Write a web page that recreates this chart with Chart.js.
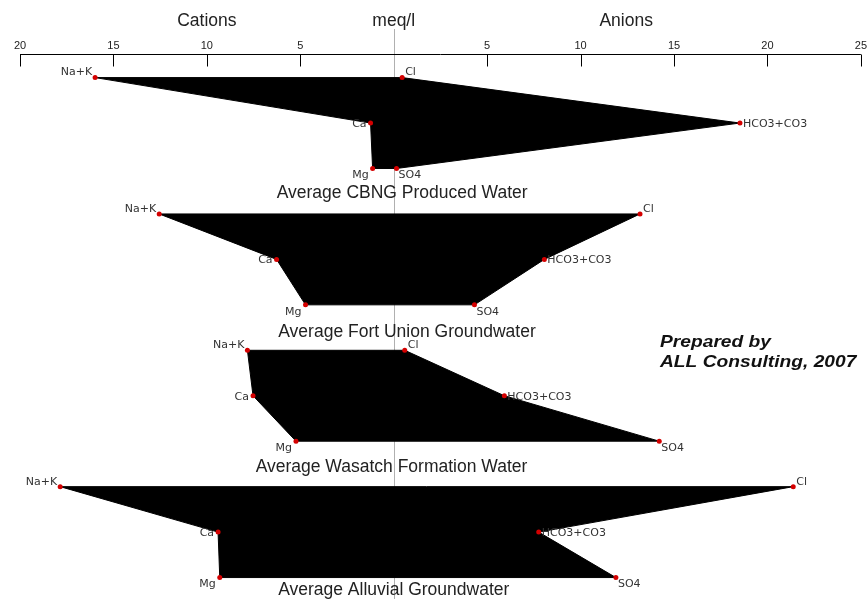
<!DOCTYPE html>
<html>
<head>
<meta charset="utf-8">
<title>Stiff diagrams - average water quality</title>
<script src="https://cdn.jsdelivr.net/npm/chart.js@4.4.1/dist/chart.umd.min.js"></script>
<style>
  html, body { margin: 0; padding: 0; background: #fff; }
  #wrap { width: 868px; height: 599px; position: relative; }
</style>
</head>
<body>
<div id="wrap"><canvas id="stiff"></canvas></div>
<script>
// Water types, one Stiff polygon each (meq/l)
const waters = [
  'Average CBNG Produced Water',
  'Average Fort Union Groundwater',
  'Average Wasatch Formation Water',
  'Average Alluvial Groundwater'
];
const ionNames = ['Na+K', 'Ca', 'Mg', 'Cl', 'HCO3+CO3', 'SO4'];

// Cations (plotted to the left of zero)
const naK  = [15.98, 12.55, 7.83, 17.85];
const ca   = [1.24, 6.27, 7.53, 9.40];
const mg   = [1.13, 4.72, 5.23, 9.31];
// Anions (plotted to the right of zero)
const cl   = [0.45, 13.18, 0.59, 21.38];
const hco3 = [18.53, 8.06, 5.92, 7.76];
const so4  = [0.15, 4.32, 14.21, 11.89];

// meq/l axis
const xTickValues = [-20, -15, -10, -5, 0, 5, 10, 15, 20, 25];
const xTickLabels = ['20', '15', '10', '5', '', '5', '10', '15', '20', '25'];

// Vertex order around each polygon, with the row (0 top, 1 middle, 2 bottom)
function ionPoints(i) {
  const r = 3 * i;
  return [
    { x: -naK[i], y: r },
    { x: -ca[i],  y: r + 1 },
    { x: -mg[i],  y: r + 2 },
    { x: cl[i],   y: r },
    { x: hco3[i], y: r + 1 },
    { x: so4[i],  y: r + 2 }
  ];
}

const datasets = [];
waters.forEach((name, i) => {
  const p = ionPoints(i);
  datasets.push({
    type: 'line',
    label: name,
    data: [p[0], p[1], p[2], p[5], p[4], p[3], p[0]],
    borderColor: '#000',
    backgroundColor: '#000',
    borderWidth: 1,
    pointRadius: 0,
    tension: 0,
    fill: 'shape',
    order: 2
  });
  datasets.push({
    type: 'scatter',
    label: name + ' ions',
    data: p,
    pointRadius: 2.5,
    pointHoverRadius: 2.5,
    pointBackgroundColor: '#d40000',
    pointBorderWidth: 0,
    showLine: false,
    order: 1
  });
});

// Label placement for each ion around its point
const ionPlace = [
  { dx: -3, dy: -5, align: 'right' },
  { dx: -4, dy: 1,  align: 'right' },
  { dx: -4, dy: 7,  align: 'right' },
  { dx: 3,  dy: -5, align: 'left' },
  { dx: 3,  dy: 1,  align: 'left' },
  { dx: 2,  dy: 7,  align: 'left' }
];

// Title anchors: [x in meq/l, row]
const titleAnchors = [[0.45, 2.54], [0.71, 5.6], [-0.12, 8.57], [0, 11.28]];

const stiffDecor = {
  id: 'stiffDecor',
  beforeDatasetsDraw(chart) {
    const { ctx, chartArea } = chart;
    const x = chart.scales.x;
    const x0 = Math.round(x.getPixelForValue(0)) + 0.5;
    ctx.save();
    // zero line
    ctx.strokeStyle = '#b0b0b0';
    ctx.lineWidth = 1;
    ctx.beginPath();
    ctx.moveTo(x0, 29);
    ctx.lineTo(x0, chart.height);
    ctx.stroke();
    // axis line with inward ticks
    const yA = Math.round(chartArea.top) + 0.5;
    ctx.strokeStyle = '#000';
    ctx.beginPath();
    ctx.moveTo(x.getPixelForValue(-20), yA);
    ctx.lineTo(x.getPixelForValue(25), yA);
    xTickValues.forEach(v => {
      if (v === 0) return;
      const px = Math.round(x.getPixelForValue(v)) + 0.5;
      ctx.moveTo(px, yA);
      ctx.lineTo(px, yA + 12);
    });
    ctx.stroke();
    ctx.restore();
  },
  afterDatasetsDraw(chart) {
    const { ctx } = chart;
    const x = chart.scales.x, y = chart.scales.y;
    ctx.save();
    // ion labels
    ctx.font = '11px "DejaVu Sans"';
    ctx.fillStyle = '#333';
    ctx.textBaseline = 'middle';
    waters.forEach((name, i) => {
      const meta = chart.getDatasetMeta(2 * i + 1);
      meta.data.forEach((pt, k) => {
        const pl = ionPlace[k];
        ctx.textAlign = pl.align;
        ctx.fillText(ionNames[k], pt.x + pl.dx, pt.y + pl.dy);
      });
    });
    // water titles
    ctx.font = '17.5px "Liberation Sans"';
    ctx.fillStyle = '#222';
    ctx.textAlign = 'center';
    waters.forEach((name, i) => {
      const [tx, ty] = titleAnchors[i];
      ctx.fillText(name, x.getPixelForValue(tx), y.getPixelForValue(ty));
    });
    // headers above the axis
    ctx.fillText('Cations', x.getPixelForValue(-10), 21);
    ctx.fillText('meq/l', x.getPixelForValue(0), 21);
    ctx.fillText('Anions', x.getPixelForValue(12.44), 21);
    // credit
    ctx.font = 'italic bold 17px "Liberation Sans"';
    ctx.fillStyle = '#111';
    ctx.textAlign = 'left';
    ctx.textBaseline = 'alphabetic';
    ctx.translate(660, 0);
    ctx.scale(1.13, 1);
    ctx.fillText('Prepared by', 0, 347);
    ctx.fillText('ALL Consulting, 2007', 0, 367);
    ctx.restore();
  }
};

new Chart(document.getElementById('stiff'), {
  type: 'line',
  data: { datasets },
  options: {
    responsive: true,
    maintainAspectRatio: false,
    devicePixelRatio: 1,
    animation: false,
    events: [],
    layout: { padding: { left: 20, right: 6, top: 0, bottom: 0 } },
    plugins: { legend: { display: false }, tooltip: { enabled: false } },
    scales: {
      x: {
        type: 'linear',
        position: 'top',
        min: -20,
        max: 25,
        afterBuildTicks: s => { s.ticks = xTickValues.map(v => ({ value: v })); },
        afterFit: s => { s.height = 54; },
        grid: { display: false, drawTicks: false },
        border: { display: false },
        ticks: {
          autoSkip: false,
          maxRotation: 0,
          padding: 1,
          color: '#222',
          font: { family: 'Liberation Sans', size: 11 },
          callback: (v, i) => xTickLabels[i]
        }
      },
      y: {
        type: 'linear',
        reverse: true,
        min: -0.519,
        max: 11.417,
        display: false
      }
    }
  },
  plugins: [stiffDecor]
});
</script>
</body>
</html>
